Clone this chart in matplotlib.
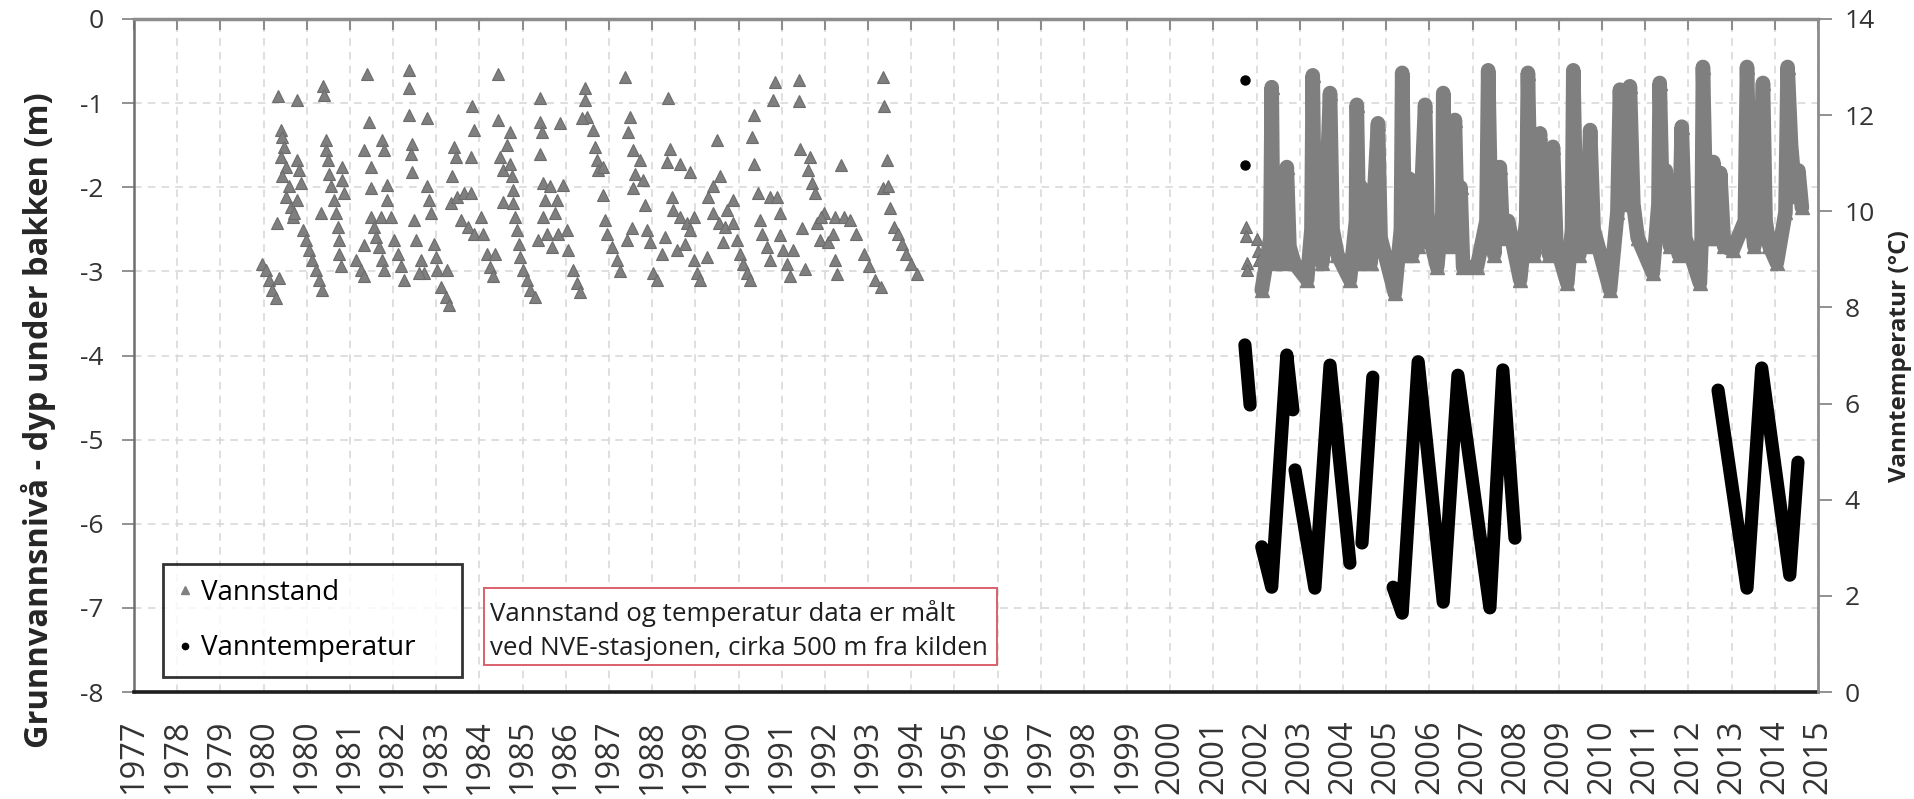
import numpy as np
import matplotlib
matplotlib.use("Agg")
import matplotlib.pyplot as plt
from matplotlib.lines import Line2D
from matplotlib.patches import Rectangle

plt.rcParams['font.family'] = ['Open Sans', 'DejaVu Sans']

# ---------------- data ----------------
tick_labels = ['1977', '1978', '1979', '1980', '1980', '1981', '1982', '1983', '1984',
               '1985', '1986', '1987', '1988', '1989', '1990', '1991', '1992', '1993',
               '1994', '1995', '1996', '1997', '1998', '1999', '2000', '2001', '2002',
               '2003', '2004', '2005', '2006', '2007', '2008', '2009', '2010', '2011',
               '2012', '2013', '2014', '2015']

# Vannstand (m under bakken), manual readings 1980-1995
wl_early_year = [
    1979.97, 1980.05, 1980.13, 1980.20, 1980.28, 1980.36, 1980.33, 1980.78, 1981.38, 1981.40,
    1980.40, 1980.43, 1980.47, 1980.40, 1980.51, 1980.43, 1980.59, 1980.51, 1980.63, 1980.67, 1980.32,
    1980.78, 1980.82, 1980.86, 1980.78, 1980.70,
    1980.90, 1980.97, 1981.05, 1981.13, 1981.21, 1981.28, 1981.36,
    1981.44, 1981.44, 1981.48, 1981.51, 1981.55, 1981.63, 1981.67, 1981.71, 1981.75, 1981.75,
    1981.78, 1981.32, 1981.82, 1981.82, 1981.86,
    1982.40, 1982.44, 1982.32, 1982.48, 1982.75, 1982.79, 1982.48, 1982.86, 1982.86, 1982.13,
    1982.25, 1982.32, 1982.32, 1982.48, 1982.56, 1982.71, 1982.94, 1982.59, 1982.67, 1982.75,
    1982.79, 1983.02, 1983.10, 1983.17, 1983.25, 1983.48, 1983.52,
    1983.37, 1983.37, 1983.37, 1983.79, 1983.44, 1983.40, 1983.44, 1983.64, 1983.71, 1983.60,
    1983.79, 1983.83, 1983.87, 1983.94, 1983.98, 1984.02, 1984.25, 1984.10, 1984.21, 1984.29,
    1984.83, 1984.87, 1984.41, 1984.45, 1984.79, 1984.37, 1984.33, 1984.48, 1984.64, 1984.79,
    1984.56, 1984.72, 1984.87, 1985.02,
    1985.43, 1985.43, 1985.70, 1985.63, 1985.47, 1985.55, 1985.70, 1985.74, 1985.78, 1985.55,
    1985.78, 1985.82, 1985.86, 1985.90, 1985.93, 1986.01, 1986.09, 1986.16, 1986.28, 1985.08,
    1985.16, 1985.24, 1985.32, 1985.35,
    1986.40, 1986.40, 1986.44, 1986.86, 1986.40, 1986.47, 1986.63, 1986.94, 1986.51, 1986.78,
    1986.47, 1986.74, 1986.36, 1986.55, 1986.82, 1987.01, 1986.67, 1987.05, 1987.17, 1987.25, 1987.32,
    1987.44, 1987.44, 1987.48, 1987.36, 1987.63, 1987.67, 1987.71, 1987.75, 1987.86, 1987.86,
    1987.90, 1987.94, 1988.06, 1988.17, 1988.25, 1988.40, 1988.52,
    1988.36, 1988.48, 1988.44, 1988.56, 1988.71, 1988.60, 1988.79, 1988.56, 1988.83, 1988.87,
    1988.94, 1989.02, 1989.10, 1989.21, 1989.29,
    1989.37, 1989.41, 1989.33, 1989.64, 1989.87, 1989.44, 1989.48, 1989.64, 1989.79, 1989.95,
    1989.56, 1989.75, 1989.87, 1989.95, 1990.02, 1990.10, 1990.25,
    1990.49, 1990.56, 1990.41, 1990.29, 1990.87, 1990.72, 1990.41, 1990.53, 1990.68, 1990.87,
    1990.95, 1991.03, 1991.10, 1991.18, 1991.26, 1990.64,
    1991.34, 1991.30, 1991.34, 1991.84, 1991.80, 1991.45, 1991.72, 1991.88, 1991.49, 1991.53,
    1991.64, 1991.72, 1991.95, 1991.95, 1992.03, 1992.11, 1992.18, 1992.26,
    1992.38, 1992.38, 1992.42, 1992.65, 1992.61, 1992.69, 1992.76, 1992.45, 1992.96, 1992.80,
    1992.88, 1992.53, 1993.07, 1992.91, 1993.18, 1993.22, 1993.27,
    1993.36, 1993.22, 1993.44, 1993.58, 1993.71, 1993.89, 1994.02, 1994.15, 1994.28, 1994.33,
    1994.35, 1994.42, 1994.33, 1994.46, 1994.50, 1994.59, 1994.68, 1994.77, 1994.86, 1994.99, 1995.12,
]
wl_early_depth = [
    -2.91, -2.98, -3.10, -3.22, -3.32, -3.08, -0.92, -0.96, -0.80, -0.90,
    -1.32, -1.40, -1.52, -1.64, -1.76, -1.87, -1.99, -2.11, -2.23, -2.35, -2.43,
    -1.68, -1.80, -1.95, -2.15, -2.31,
    -2.51, -2.63, -2.75, -2.87, -2.98, -3.10, -3.22,
    -1.44, -1.56, -1.68, -1.84, -1.99, -2.15, -2.31, -2.47, -2.63, -2.79,
    -2.94, -2.31, -1.76, -1.91, -2.07,
    -0.65, -1.22, -1.56, -1.76, -1.44, -1.56, -2.01, -1.97, -2.15, -2.87,
    -2.98, -3.06, -2.69, -2.35, -2.47, -2.35, -2.35, -2.59, -2.71, -2.87,
    -2.98, -2.63, -2.79, -2.94, -3.10, -2.39, -2.63,
    -0.61, -0.82, -1.14, -1.18, -1.48, -1.60, -1.82, -2.87, -3.02, -3.02,
    -1.99, -2.15, -2.31, -2.67, -2.83, -2.98, -2.98, -3.18, -3.30, -3.40,
    -1.04, -1.32, -1.52, -1.64, -1.64, -1.87, -2.19, -2.11, -2.07, -2.07,
    -2.39, -2.47, -2.55, -2.35,
    -0.65, -1.20, -1.34, -1.50, -1.64, -1.80, -1.72, -1.87, -2.03, -2.17,
    -2.19, -2.35, -2.51, -2.67, -2.83, -2.98, -3.10, -3.22, -3.30, -2.55,
    -2.79, -2.95, -3.06, -2.79,
    -0.94, -1.22, -1.34, -1.24, -1.60, -1.95, -1.99, -1.97, -2.15, -2.15,
    -2.35, -2.31, -2.63, -2.55, -2.55, -2.51, -2.71, -2.75, -2.98, -3.14, -3.24,
    -0.82, -0.96, -1.16, -1.18, -1.32, -1.52, -1.68, -1.80, -1.76, -2.09,
    -2.39, -2.55, -2.71, -2.87, -3.00, -2.63, -2.49,
    -0.69, -1.16, -1.34, -1.56, -1.68, -1.84, -1.91, -2.01, -2.21, -2.51,
    -2.65, -3.02, -3.10, -2.79, -2.59,
    -0.94, -1.54, -1.70, -1.72, -1.82, -2.11, -2.27, -2.35, -2.43, -2.35,
    -2.75, -2.67, -2.51, -2.87, -3.02, -3.10, -2.83,
    -1.44, -1.87, -1.99, -2.11, -2.15, -2.27, -2.31, -2.43, -2.47, -2.43,
    -2.63, -2.79, -2.91, -3.02, -3.10, -2.65,
    -1.14, -1.40, -1.72, -0.75, -0.96, -2.07, -2.11, -2.11, -2.39, -2.55,
    -2.71, -2.87, -2.31, -2.57, -2.75, -2.91, -3.06, -2.75,
    -0.73, -0.98, -1.54, -1.64, -1.80, -1.95, -2.07, -2.49, -2.31, -2.43,
    -2.63, -2.97, -2.65, -2.35, -2.55, -2.87, -3.03,
    -1.74, -2.35, -2.35, -2.39, -2.55, -2.79, -2.94, -3.10, -3.18, -0.69,
    -1.04, -1.68, -2.01, -1.99, -2.25, -2.47, -2.55, -2.67, -2.79, -2.91, -3.03,
]

# Vannstand, first sparse readings autumn 2002
wl_start_year = [2002.74, 2002.74, 2002.76, 2002.76, 2002.99, 2003.01, 2003.03]
wl_start_depth = [-2.47, -2.58, -2.90, -2.98, -2.62, -2.76, -2.86]

# Vannstand, dense logger series 2003-2015 (turning points)
wl_late_year = [
    2003.10, 2003.30, 2003.33, 2003.36, 2003.40, 2003.45, 2003.50, 2003.55, 2003.62, 2003.68,
    2003.74, 2003.85, 2004.15, 2004.25, 2004.28, 2004.32, 2004.38, 2004.45, 2004.50, 2004.60,
    2004.68, 2004.74, 2004.85, 2005.14, 2005.28, 2005.30, 2005.35, 2005.40, 2005.47, 2005.55,
    2005.62, 2005.70, 2005.79, 2005.85, 2006.18, 2006.32, 2006.35, 2006.40, 2006.45, 2006.52,
    2006.58, 2006.65, 2006.72, 2006.80, 2006.88, 2006.94, 2007.16, 2007.28, 2007.30, 2007.36,
    2007.42, 2007.50, 2007.57, 2007.63, 2007.70, 2007.76, 2008.08, 2008.30, 2008.34, 2008.40,
    2008.48, 2008.55, 2008.61, 2008.68, 2008.80, 2009.08, 2009.22, 2009.26, 2009.32, 2009.40,
    2009.47, 2009.54, 2009.60, 2009.67, 2009.75, 2009.84, 2009.92, 2010.17, 2010.28, 2010.31,
    2010.37, 2010.45, 2010.55, 2010.62, 2010.70, 2010.78, 2011.16, 2011.33, 2011.39, 2011.45,
    2011.50, 2011.56, 2011.62, 2011.70, 2011.80, 2012.15, 2012.28, 2012.31, 2012.38, 2012.45,
    2012.55, 2012.65, 2012.75, 2012.82, 2012.90, 2013.24, 2013.28, 2013.31, 2013.37, 2013.45,
    2013.55, 2013.63, 2013.71, 2013.80, 2014.00, 2014.28, 2014.33, 2014.40, 2014.50, 2014.60,
    2014.70, 2014.76, 2014.85, 2015.02, 2015.22, 2015.27, 2015.35, 2015.45, 2015.52, 2015.60,
]
wl_late_depth = [
    -3.22, -2.60, -0.81, -2.40, -2.90, -1.90, -2.80, -2.20, -2.90, -1.76,
    -2.70, -2.90, -3.10, -2.50, -0.67, -2.30, -2.80, -2.20, -2.90, -2.00,
    -0.88, -2.50, -2.80, -3.10, -2.40, -1.02, -2.50, -2.00, -2.90, -2.30,
    -2.90, -2.10, -1.24, -2.60, -3.26, -2.50, -0.64, -2.20, -2.80, -1.90,
    -2.80, -2.10, -2.70, -2.00, -1.02, -2.50, -2.95, -2.30, -0.88, -2.40,
    -1.80, -2.70, -1.20, -2.50, -2.00, -2.95, -2.95, -2.40, -0.61, -2.20,
    -2.80, -2.10, -1.76, -2.60, -2.40, -3.10, -2.40, -0.64, -2.20, -2.80,
    -1.80, -1.36, -2.60, -2.00, -2.80, -1.52, -2.70, -3.14, -2.50, -0.61,
    -2.20, -2.80, -2.00, -2.70, -1.32, -2.50, -3.22, -2.30, -0.84, -1.90,
    -1.40, -2.20, -0.80, -2.20, -2.60, -3.02, -2.20, -0.76, -2.30, -1.80,
    -2.70, -2.10, -2.80, -1.28, -2.60, -3.14, -2.60, -0.57, -2.00, -2.60,
    -1.70, -2.60, -1.83, -2.70, -2.75, -2.40, -0.57, -2.20, -2.70, -2.20,
    -0.76, -2.40, -2.70, -2.90, -2.30, -0.57, -1.50, -2.10, -1.80, -2.24,
]

# Vanntemperatur (degC); None separates gaps in the logger record
temp_year = [2002.71, 2002.83, None,
             2003.10, 2003.33, 2003.68, 2003.82, None,
             2003.87, 2004.33, 2004.68, 2005.14, None,
             2005.42, 2005.67, None,
             2006.14, 2006.35, 2006.72, 2007.30, 2007.64, 2008.38, 2008.68, 2008.96, None,
             2013.66, 2014.33, 2014.67, 2015.32, 2015.51]
temp_val = [7.22, 5.97, None,
            3.02, 2.18, 7.01, 5.87, None,
            4.62, 2.16, 6.80, 2.68, None,
            3.10, 6.55, None,
            2.18, 1.64, 6.87, 1.87, 6.59, 1.75, 6.70, 3.20, None,
            6.28, 2.16, 6.74, 2.43, 4.78]
temp_dot_year = [2002.71, 2002.71]
temp_dot_val = [12.73, 10.96]

# ---------------- figure ----------------
W, H = 1915, 799
L, R, T, B = 134, 1818, 19, 692
fig = plt.figure(figsize=(W / 100, H / 100), dpi=100)
ax = fig.add_axes([L / W, 1 - B / H, (R - L) / W, (B - T) / H])
ax2 = ax.twinx()

tick_pos = 1977 + np.arange(len(tick_labels)) * 365 / 365.25
ax.set_xlim(tick_pos[0], tick_pos[-1])
ax.set_xticks(tick_pos)
ax.set_xticklabels(tick_labels, rotation=90, fontsize=23.5, color='#333333')
ax.tick_params(axis='x', bottom=False, top=True, direction='in', length=8, width=1.5,
               color='#8c8c8c', pad=20, labelbottom=True, labeltop=False)

ax.set_ylim(-8, 0)
yt = list(range(-8, 1))
ax.set_yticks(yt)
ax.set_yticklabels([str(v) for v in yt], fontsize=19, color='#333333')
ax.tick_params(axis='y', direction='out', length=9, width=1.2, color='#7f7f7f', pad=13)

ax2.set_ylim(0, 14)
yt2 = list(range(0, 15, 2))
ax2.set_yticks(yt2)
ax2.set_yticklabels([str(v) for v in yt2], fontsize=19, color='#333333')
ax2.tick_params(axis='y', direction='out', length=10, width=1.2, color='#7f7f7f', pad=9)

ax.grid(True, linestyle=(0, (5, 4)), color='#d6d6d6', linewidth=1.1)
ax.set_axisbelow(True)

for s in ax2.spines.values():
    s.set_visible(False)
ax2.spines['right'].set_visible(True)
ax2.spines['right'].set_color('#8c8c8c')
ax2.spines['right'].set_linewidth(2)
ax.spines['right'].set_visible(False)
ax.spines['top'].set_color('#8c8c8c')
ax.spines['top'].set_linewidth(2.5)
ax.spines['left'].set_color('#6e6e6e')
ax.spines['left'].set_linewidth(1.8)
ax.spines['bottom'].set_color('#1e1e1e')
ax.spines['bottom'].set_linewidth(2.6)

gray = '#7f7f7f'
ax.plot(wl_early_year, wl_early_depth, ls='none', marker='^', ms=9, mfc=gray,
        mec='#6c6c6c', mew=0.8, zorder=3)
ax.plot(wl_start_year, wl_start_depth, ls='none', marker='^', ms=9, mfc=gray,
        mec='#6c6c6c', mew=0.8, zorder=3)
ax.plot(wl_late_year, wl_late_depth, color=gray, lw=10.5, solid_joinstyle='round',
        solid_capstyle='round', marker='^', ms=10, mfc=gray, mec=gray, zorder=3)

tyr = np.array([np.nan if v is None else v for v in temp_year], dtype=float)
tval = np.array([np.nan if v is None else v for v in temp_val], dtype=float)
ax2.plot(tyr, tval, color='black', lw=9.5, solid_capstyle='round', solid_joinstyle='round')
ax2.plot(temp_dot_year, temp_dot_val, ls='none', marker='o', ms=6.5, color='black')


def axf(px, py):
    return ((px - L) / (R - L), (B - py) / (B - T))


# legend
lx0, ly0 = axf(163, 677)
lx1, ly1 = axf(462, 562)
handles = [Line2D([], [], ls='none', marker='^', ms=6, color=gray),
           Line2D([], [], ls='none', marker='o', ms=4.5, color='black')]
leg = ax.legend(handles, ['Vannstand', 'Vanntemperatur'], loc='lower left',
                bbox_to_anchor=(lx0, ly0, lx1 - lx0, ly1 - ly0), mode='expand',
                frameon=True, fancybox=False, edgecolor='black', fontsize=20,
                handlelength=0.5, handletextpad=0.35, labelspacing=1.0,
                borderpad=0.53, borderaxespad=0)
leg.get_frame().set_linewidth(2)
leg.set_zorder(10)

# note box
bx0, by0 = axf(484, 665)
bx1, by1 = axf(997, 588)
ax.add_patch(Rectangle((bx0, by0), bx1 - bx0, by1 - by0, transform=ax.transAxes,
                       facecolor='white', edgecolor='#d9606c', lw=1.4, zorder=9))
tx, ty1 = axf(490, 621)
_, ty2 = axf(490, 655)
ax.text(tx, ty1, 'Vannstand og temperatur data er målt', transform=ax.transAxes,
        fontsize=18.6, va='baseline', ha='left', color='#1e1e1e', zorder=11)
ax.text(tx, ty2, 'ved NVE-stasjonen, cirka 500 m fra kilden', transform=ax.transAxes,
        fontsize=18.6, va='baseline', ha='left', color='#1e1e1e', zorder=11)

fig.text(38 / W, 1 - 420 / H, 'Grunnvannsnivå - dyp under bakken (m)', rotation=90,
         ha='center', va='center', fontsize=23.5, fontweight='bold', color='#262626')
fig.text(1900 / W, 1 - 356 / H, 'Vanntemperatur (°C)', rotation=90,
         ha='center', va='center', fontsize=17.5, fontweight='bold', color='#262626')

fig.savefig('out.png', dpi=100)
